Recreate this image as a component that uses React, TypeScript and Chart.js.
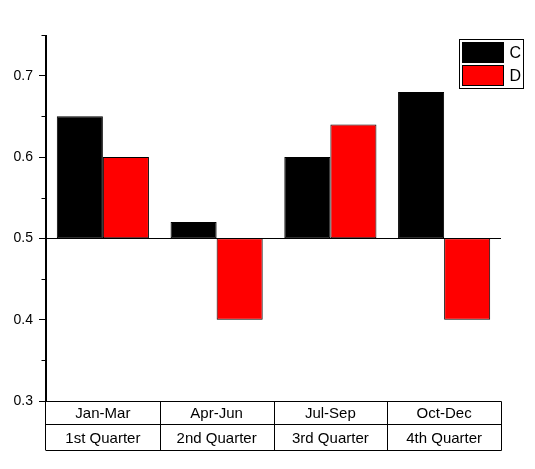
import React, { useEffect, useRef } from "react";
import Chart from "chart.js/auto";

const months = ["Jan-Mar", "Apr-Jun", "Jul-Sep", "Oct-Dec"];
const quarters = ["1st Quarter", "2nd Quarter", "3rd Quarter", "4th Quarter"];
const seriesC = [0.65, 0.52, 0.6, 0.68];
const seriesD = [0.6, 0.4, 0.64, 0.4];
const baseline = 0.5;
const yTicks = [0.3, 0.4, 0.5, 0.6, 0.7];
const yMinorTicks = [0.35, 0.45, 0.55, 0.65, 0.75];

const FONT = "'Liberation Sans', Arial, sans-serif";

const tablePlugin = {
  id: "tableAndExtras",
  afterDraw(chart: any) {
    const { ctx, chartArea, scales } = chart;
    const x = scales.x;
    const y = scales.y;
    const left = chartArea.left;
    const right = chartArea.right;
    const bottom = chartArea.bottom;
    const rowH1 = 23;
    const rowH2 = 26;
    ctx.save();
    ctx.strokeStyle = "#000";
    ctx.lineWidth = 1;

    // baseline at 0.5
    const yb = Math.round(y.getPixelForValue(baseline)) + 0.5;
    ctx.beginPath();
    ctx.moveTo(left, yb);
    ctx.lineTo(right, yb);
    ctx.stroke();

    // y axis extension through table and minor ticks
    const ax = Math.round(left) - 0.5;
    ctx.beginPath();
    ctx.moveTo(ax, y.top);
    ctx.lineTo(ax, bottom + rowH1 + rowH2);
    yMinorTicks.forEach((v) => {
      const py = Math.round(y.getPixelForValue(v)) + 0.5;
      ctx.moveTo(ax - 4, py);
      ctx.lineTo(ax, py);
    });
    ctx.stroke();

    // table
    const catW = (right - left) / months.length;
    const r0 = Math.round(bottom) + 0.5;
    const r1 = r0 + rowH1;
    const r2 = r1 + rowH2;
    ctx.beginPath();
    [r0, r1, r2].forEach((ry) => {
      ctx.moveTo(ax, ry);
      ctx.lineTo(Math.round(right) + 0.5, ry);
    });
    for (let i = 1; i <= months.length; i++) {
      const vx = Math.round(left + catW * i) + 0.5;
      ctx.moveTo(vx, r0);
      ctx.lineTo(vx, r2);
    }
    ctx.stroke();

    ctx.fillStyle = "#000";
    ctx.font = `15px ${FONT}`;
    ctx.textAlign = "center";
    ctx.textBaseline = "middle";
    months.forEach((m, i) => {
      const cx = x.getPixelForValue(i);
      ctx.fillText(m, cx, (r0 + r1) / 2 + 1);
      ctx.fillText(quarters[i], cx, (r1 + r2) / 2 + 1);
    });

    // legend
    const lx = 459.5;
    const ly = 39.5;
    ctx.strokeRect(lx, ly, 64, 49);
    const items = [
      { label: "C", color: "#000000" },
      { label: "D", color: "#ff0000" },
    ];
    ctx.font = `16px ${FONT}`;
    ctx.textAlign = "left";
    items.forEach((it, i) => {
      const sy = ly + 3 + i * 23;
      ctx.fillStyle = it.color;
      ctx.fillRect(lx + 3, sy, 41, 20);
      ctx.strokeRect(lx + 3, sy, 41, 20);
      ctx.fillStyle = "#000";
      ctx.fillText(it.label, lx + 50, sy + 11);
    });
    ctx.restore();
  },
};

const App: React.FC = () => {
  const canvasRef = useRef<HTMLCanvasElement>(null);
  const chartRef = useRef<Chart | null>(null);

  useEffect(() => {
    if (!canvasRef.current) return;
    if (chartRef.current) chartRef.current.destroy();

    chartRef.current = new Chart(canvasRef.current, {
      type: "bar",
      data: {
        labels: months,
        datasets: [
          {
            label: "C",
            data: seriesC.map((v) => [baseline, v]) as any,
            backgroundColor: "#000000",
            borderColor: "#000000",
            borderWidth: 1,
            borderSkipped: false,
          },
          {
            label: "D",
            data: seriesD.map((v) => [baseline, v]) as any,
            backgroundColor: "#ff0000",
            borderColor: "#000000",
            borderWidth: 1,
            borderSkipped: false,
          },
        ],
      },
      options: {
        responsive: false,
        animation: false,
        devicePixelRatio: 1,
        layout: { padding: { left: 0, top: 35, right: 34, bottom: 68 } },
        plugins: {
          legend: { display: false },
          tooltip: { enabled: false },
        },
        datasets: {
          bar: { categoryPercentage: 0.81, barPercentage: 1.0 },
        },
        scales: {
          x: {
            display: false,
            offset: true,
          },
          y: {
            min: 0.3,
            max: 0.75,
            afterFit: (s: any) => {
              s.width = 46;
            },
            afterBuildTicks: (s: any) => {
              s.ticks = yTicks.map((v) => ({ value: v }));
            },
            ticks: {
              color: "#000",
              font: { family: FONT, size: 14 },
              padding: 6,
              callback: (v: any) => Number(v).toFixed(1),
            },
            grid: {
              drawOnChartArea: false,
              drawTicks: true,
              tickLength: 7,
              color: "#000",
            },
            border: { display: true, color: "#000" },
          },
        },
      },
      plugins: [tablePlugin],
    });

    return () => {
      if (chartRef.current) {
        chartRef.current.destroy();
        chartRef.current = null;
      }
    };
  }, []);

  return (
    <div
      style={{
        position: "fixed",
        left: 0,
        top: 0,
        width: 535,
        height: 469,
        background: "#fff",
      }}
    >
      <canvas ref={canvasRef} width={535} height={469} />
    </div>
  );
};

export default App;
